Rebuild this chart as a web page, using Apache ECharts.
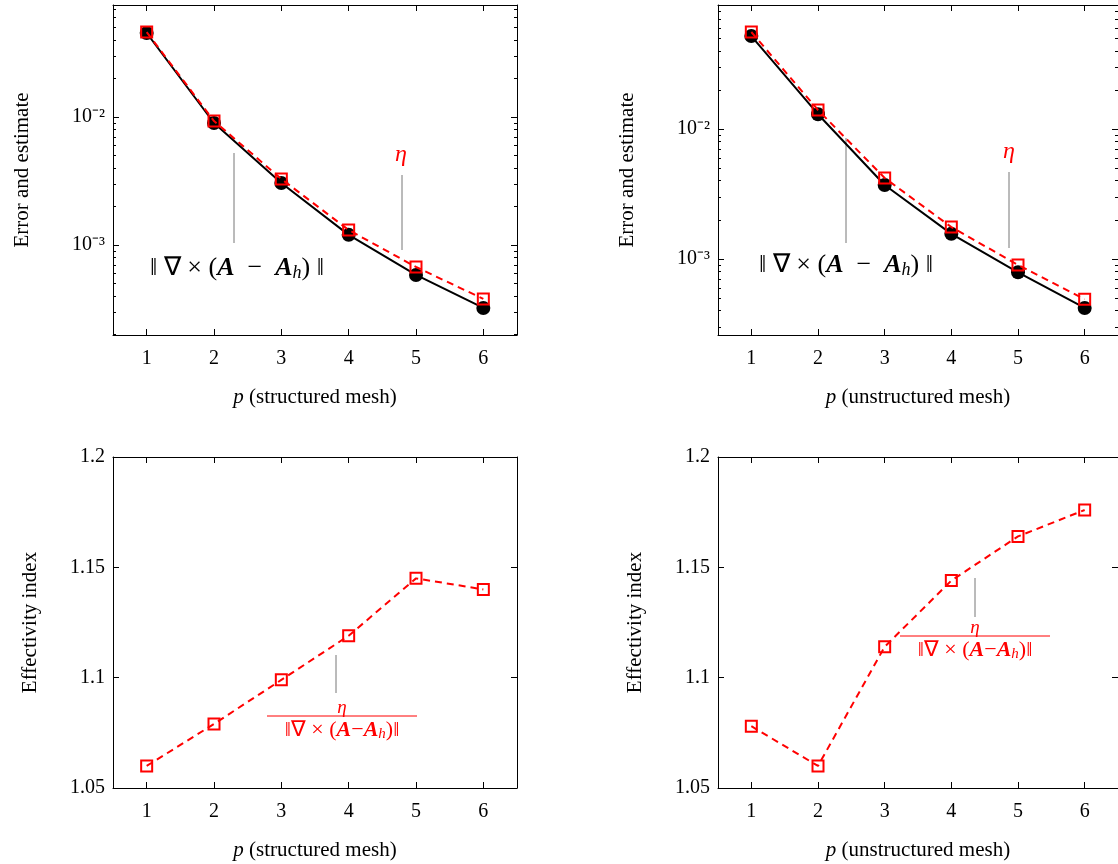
<!DOCTYPE html>
<html><head><meta charset="utf-8">
<script src="https://cdn.jsdelivr.net/npm/echarts@6/dist/echarts.min.js"></script>
<style>html,body{margin:0;background:#fff}#main{width:1118px;height:864px}</style>
</head><body><div id="main"></div>
<script>
var pVals = ['1', '2', '3', '4', '5', '6'];
var errStruct = [0.0453, 0.00898, 0.00305, 0.00120, 0.000583, 0.000322];
var estStruct = [0.0461, 0.0093, 0.00328, 0.00131, 0.000673, 0.000379];
var errUnstr = [0.0519, 0.0130, 0.00371, 0.00156, 0.00079, 0.00042];
var estUnstr = [0.0558, 0.0140, 0.00420, 0.00176, 0.00090, 0.00049];
var effStruct = [1.060, 1.079, 1.099, 1.119, 1.145, 1.140];
var effUnstr = [1.078, 1.060, 1.114, 1.144, 1.164, 1.176];
var effTicks = [1.05, 1.1, 1.15, 1.2];

var FONT = 'Liberation Serif';
var RED = '#ff0000';
var chart = echarts.init(document.getElementById('main'));

var grids = [
  {left: 113, top: 5, width: 404, height: 330},
  {left: 718, top: 5, width: 403, height: 330},
  {left: 113, top: 457, width: 404, height: 331},
  {left: 718, top: 457, width: 403, height: 331}
];
var xNames = ['(structured mesh)', '(unstructured mesh)', '(structured mesh)', '(unstructured mesh)'];
var logRange = [[1.98e-4, 0.075], [2.6e-4, 0.09]];
var sup = {'-2': '⁻²', '-3': '⁻³'};

var xAxis = [], yAxis = [], series = [];
grids.forEach(function (g, i) {
  var base = {gridIndex: i, type: 'category', data: pVals, boundaryGap: true,
    splitLine: {show: false}, axisLine: {show: true, lineStyle: {color: '#000'}},
    axisTick: {show: true, inside: true, alignWithLabel: true, length: 6, lineStyle: {color: '#000'}}};
  xAxis.push(Object.assign({}, base, {position: 'bottom',
    axisLabel: {color: '#000', fontFamily: FONT, fontSize: 20, margin: 14},
    name: '{i|p} ' + xNames[i], nameLocation: 'middle', nameGap: 52,
    nameTextStyle: {color: '#000', fontFamily: FONT, fontSize: 21,
      rich: {i: {fontStyle: 'italic', fontFamily: FONT, fontSize: 21}}}}));
  xAxis.push(Object.assign({}, base, {position: 'top', axisLabel: {show: false}}));
  var yb;
  if (i < 2) {
    yb = {gridIndex: i, type: 'log', logBase: 10, min: logRange[i][0], max: logRange[i][1],
      splitLine: {show: false}, axisLine: {show: true, lineStyle: {color: '#000'}},
      axisTick: {show: true, inside: true, length: 6, lineStyle: {color: '#000'}},
      minorTick: {show: true, splitNumber: 9, length: 3, lineStyle: {color: '#000'}}};
  } else {
    yb = {gridIndex: i, type: 'value', min: 1.05, max: 1.2, interval: 0.05,
      splitLine: {show: false}, axisLine: {show: true, lineStyle: {color: '#000'}},
      axisTick: {show: true, inside: true, length: 6, lineStyle: {color: '#000'}}};
  }
  yAxis.push(Object.assign({}, yb, {position: 'left',
    axisLabel: {color: '#000', fontFamily: FONT, fontSize: 20, margin: 8,
      formatter: i < 2 ? function (v) {
        var e = Math.log10(v);
        if (Math.abs(e - Math.round(e)) > 1e-6) return '';
        return '10' + (sup[String(Math.round(e))] || '');
      } : function (v) { return effTicks.some(function (t) { return Math.abs(t - v) < 1e-9; }) ? String(+v.toFixed(2)) : ''; }},
    name: i < 2 ? 'Error and estimate' : 'Effectivity index', nameLocation: 'middle',
    nameGap: i < 2 ? 80 : 72, nameTextStyle: {color: '#000', fontFamily: FONT, fontSize: 21}}));
  yAxis.push(Object.assign({}, yb, {position: 'right', axisLabel: {show: false}}));
});

function blackSeries(i, data) {
  return {type: 'line', xAxisIndex: 2 * i, yAxisIndex: 2 * i, data: data,
    symbol: 'circle', symbolSize: 14, itemStyle: {color: '#000'},
    lineStyle: {color: '#000', width: 2}, z: 2, animation: false};
}
function redSeries(i, data) {
  return {type: 'line', xAxisIndex: 2 * i, yAxisIndex: 2 * i, data: data,
    symbol: 'rect', symbolSize: 11, itemStyle: {color: 'rgba(255,255,255,0)', borderColor: RED, borderWidth: 2},
    lineStyle: {color: RED, width: 2, type: [7, 5]}, z: 3, animation: false};
}
series.push(blackSeries(0, errStruct), redSeries(0, estStruct));
series.push(blackSeries(1, errUnstr), redSeries(1, estUnstr));
series.push(redSeries(2, effStruct), redSeries(3, effUnstr));

function mkRich(sz, col) {
  return {
    n: {fontFamily: FONT, fontSize: sz, fill: col, color: col},
    a: {fontFamily: FONT, fontSize: sz, fontStyle: 'italic', fontWeight: 'bold', fill: col, color: col},
    h: {fontFamily: FONT, fontSize: Math.round(sz * 0.68), fontStyle: 'italic', fill: col, color: col, padding: [Math.round(sz * 0.4), 0, 0, 0]}
  };
}
var normTxt = '{n|‖ ∇ × (}{a|A}{n|  −  }{a|A}{h|h}{n|) ‖}';
var normTxtS = '{n|‖∇ × (}{a|A}{n|−}{a|A}{h|h}{n|)‖}';
function vline(x, y1, y2) {
  return {type: 'line', shape: {x1: x, y1: y1, x2: x, y2: y2}, style: {stroke: '#777', lineWidth: 1}};
}
function txt(x, y, t, r, extra) {
  return {type: 'text', x: x, y: y, style: Object.assign({text: t, rich: r, align: 'center', verticalAlign: 'middle'}, extra || {})};
}
function eta(x, y, sz) {
  return txt(x, y, 'η', null, {font: 'italic ' + sz + 'px ' + FONT, fill: RED});
}
function frac(x, y) {
  return [eta(x, y, 19),
    {type: 'line', shape: {x1: x - 75, y1: y + 8, x2: x + 75, y2: y + 8}, style: {stroke: RED, lineWidth: 1}},
    txt(x, y + 22, normTxtS, mkRich(22, RED), {fill: RED})];
}

var graphic = [
  vline(234, 153, 243), txt(237, 268, normTxt, mkRich(26, '#000')),
  vline(402, 175, 250), eta(401, 155, 24),
  vline(846, 138, 243), txt(846, 265, normTxt, mkRich(26, '#000')),
  vline(1009, 172, 248), eta(1009, 152, 24),
  vline(336, 655, 693), vline(975, 578, 617)
].concat(frac(342, 708)).concat(frac(975, 628));

chart.setOption({
  animation: false, grid: grids, xAxis: xAxis, yAxis: yAxis, series: series, graphic: graphic
});
</script></body></html>
